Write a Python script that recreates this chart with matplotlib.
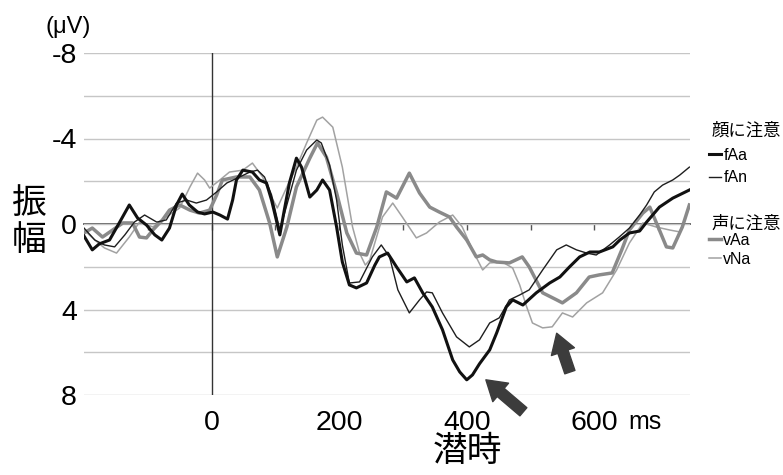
import matplotlib.pyplot as plt
from matplotlib.lines import Line2D

plt.rcParams['font.family'] = ['Liberation Sans Narrow', 'Liberation Sans', 'Noto Sans CJK JP']
JP = ['Noto Sans CJK JP', 'DejaVu Sans']

# === Data (ms, µV) ===
faa_t = [-200, -187, -176, -160, -144, -129, -116, -102, -89, -78,
         -66, -55, -46, -35, -22, -11, 2, 13, 25, 33,
         39, 49, 64, 75, 86, 94, 107, 114, 122, 133,
         141, 154, 165, 174, 185, 196, 205, 216, 227, 243,
         256, 263, 276, 290, 306, 318, 331, 346, 362, 378,
         389, 400, 409, 420, 436, 447, 462, 472, 488, 509,
         530, 546, 561, 577, 593, 608, 629, 640, 655, 671,
         682, 702, 723, 749]
faa_v = [0.56, 1.21, 0.93, 0.75, -0.09, -0.89, -0.28, 0.05, 0.51, 0.75,
         0.19, -0.89, -1.40, -0.89, -0.56, -0.47, -0.56, -0.42, -0.23, -1.12,
         -2.06, -2.52, -2.43, -2.06, -1.92, -1.12, 0.51, -0.65, -1.92, -3.08,
         -2.66, -1.26, -1.59, -2.06, -1.59, 0.14, 1.78, 2.85, 2.99, 2.76,
         1.92, 1.54, 1.36, 2.01, 2.71, 2.52, 3.22, 3.88, 4.95, 6.36,
         6.92, 7.29, 7.06, 6.54, 5.89, 5.09, 3.88, 3.55, 3.79, 3.22,
         2.76, 2.48, 2.01, 1.54, 1.31, 1.31, 1.07, 0.75, 0.42, 0.33,
         -0.09, -0.79, -1.21, -1.59]

fan_t = [-200, -183, -168, -152, -136, -121, -105, -86, -71, -55,
         -39, -24, -8, 8, 24, 44, 60, 72, 83, 94,
         107, 118, 133, 149, 165, 172, 185, 196, 205, 216,
         232, 252, 266, 279, 292, 310, 326, 337, 346, 362,
         384, 404, 420, 436, 451, 467, 483, 498, 519, 541,
         556, 572, 588, 603, 624, 639, 655, 671, 682, 694,
         707, 723, 734, 749]
fan_v = [0.19, 0.75, 0.98, 1.07, 0.51, -0.09, -0.42, -0.09, -0.19, -0.98,
         -1.12, -0.98, -1.12, -1.50, -1.92, -2.20, -2.43, -2.52, -2.20, -1.36,
         0.28, -0.89, -2.52, -3.46, -3.93, -3.79, -2.76, -1.12, 0.98, 2.76,
         2.71, 1.54, 0.98, 1.54, 3.08, 4.16, 3.55, 3.18, 3.22, 4.16,
         5.28, 5.75, 5.42, 4.63, 4.39, 3.55, 3.32, 3.08, 2.15, 1.21,
         0.98, 1.21, 1.36, 1.45, 0.98, 0.61, 0.19, -0.42, -0.89, -1.50,
         -1.82, -2.06, -2.29, -2.66]

vaa_t = [-200, -187, -171, -155, -139, -124, -113, -102, -92, -77,
         -66, -50, -34, -19, -3, 8, 17, 39, 60, 75,
         91, 103, 118, 133, 154, 166, 180, 196, 212, 227,
         243, 259, 274, 290, 310, 326, 342, 357, 373, 384,
         400, 415, 425, 436, 447, 467, 487, 498, 519, 541,
         550, 572, 592, 608, 628, 643, 655, 676, 687, 702,
         713, 723, 738, 749]
vaa_v = [0.42, 0.19, 0.61, 0.28, -0.05, -0.05, 0.61, 0.65, 0.28, -0.19,
         -0.65, -0.89, -0.65, -0.51, -0.65, -1.36, -2.06, -2.20, -2.20, -1.59,
         -0.05, 1.54, 0.14, -1.73, -3.08, -3.79, -3.13, -1.45, 0.42, 1.36,
         1.45, 0.14, -1.50, -1.21, -2.38, -1.45, -0.79, -0.56, -0.33, 0.14,
         0.75, 1.54, 1.45, 1.68, 1.78, 1.82, 1.54, 2.01, 3.22, 3.55,
         3.69, 3.22, 2.48, 2.38, 2.29, 1.21, 0.28, -0.51, -0.79, 0.28,
         1.07, 1.12, 0.14, -0.89]

vna_t = [-200, -183, -168, -149, -129, -113, -92, -71, -50, -34,
         -22, -11, -3, 13, 28, 49, 64, 80, 94, 103,
         118, 133, 149, 165, 174, 190, 205, 221, 232, 241,
         248, 268, 284, 299, 321, 337, 357, 378, 393, 409,
         425, 436, 456, 472, 483, 494, 503, 519, 534, 550,
         566, 588, 613, 635, 655, 676, 697, 718, 734, 749]
vna_v = [0.28, 0.75, 1.12, 1.36, 0.61, -0.09, 0.14, -0.33, -0.75, -1.73,
         -2.38, -2.06, -1.68, -2.06, -2.43, -2.52, -2.85, -2.20, -1.26, -0.75,
         -1.73, -2.66, -3.79, -4.86, -5.00, -4.53, -2.66, 0.14, 1.36, 1.92,
         1.68, -0.33, -0.98, -0.33, 0.65, 0.42, -0.09, -0.42, 0.14, 1.21,
         2.15, 1.82, 1.78, 2.06, 2.85, 3.88, 4.63, 4.86, 4.81, 4.16,
         4.35, 3.69, 3.22, 2.15, 0.89, -0.05, 0.14, 0.28, 0.37, -0.79]

y_ticks = [-8, -4, 0, 4, 8]
y_ticklabels = ['-8', '-4', '0', '4', '8']
x_ticks = [0, 200, 400, 600]
x_ticklabels = ['0', '200', '400', '600']

# === Figure ===
fig = plt.figure(figsize=(7.83, 4.75), dpi=100)
ax = fig.add_axes([84 / 783, 1 - 395 / 475, 606 / 783, 342 / 475])
ax.set_xlim(-200, 750)
ax.set_ylim(8, -8)
for s in ax.spines.values():
    s.set_visible(False)

ax.set_yticks(y_ticks, y_ticklabels)
ax.set_yticks(range(-8, 9, 2), minor=True)
ax.grid(axis='y', which='both', color='#c6c6c6', lw=1)
ax.set_xticks(x_ticks, x_ticklabels)
ax.tick_params(which='both', length=0)
ax.tick_params(axis='y', pad=5, labelsize=20.5)
ax.tick_params(axis='x', pad=11, labelsize=20.5)
ax.axvline(0, color='#333333', lw=1)

# zero line with small ms ticks
sec = ax.secondary_xaxis(0.5)
sec.set_xticks(range(-100, 800, 100))
sec.tick_params(direction='in', length=4, width=1, color='#555555', labeltop=False, labelbottom=False)
sec.spines['top'].set_color('#555555')
sec.spines['top'].set_linewidth(1.3)

ax.plot(vna_t, vna_v, color='#a2a2a2', lw=1.1, solid_joinstyle='round', label='vNa')
ax.plot(vaa_t, vaa_v, color='#8a8a8a', lw=2.5, solid_joinstyle='round', label='vAa')
ax.plot(fan_t, fan_v, color='#1e1e1e', lw=1.0, solid_joinstyle='round', label='fAn')
ax.plot(faa_t, faa_v, color='#111111', lw=2.2, solid_joinstyle='round', label='fAa')

# arrows
arrow = dict(arrowstyle='simple,head_length=1,head_width=1.25,tail_width=0.55',
             color='#3c3c3c', shrinkA=0, shrinkB=0, mutation_scale=14)
i = faa_v.index(max(faa_v))
ax.annotate('', xy=(faa_t[i] + 30, faa_v[i]), xytext=(27, -23),
            textcoords='offset points', arrowprops=arrow)
j = vna_v.index(max(vna_v[40:]))
ax.annotate('', xy=(vna_t[j] + 22, vna_v[j] + 0.25), xytext=(9.5, -28),
            textcoords='offset points', arrowprops=arrow)

# texts
fig.text(628 / 783, 1 - 422 / 475, 'ms', fontsize=18, va='center', ha='left')
fig.text(68 / 783, 1 - 27 / 475, '(μV)', fontsize=17, ha='center', va='center')
fig.text(29 / 783, 1 - 222 / 475, '振\n幅', fontsize=25, ha='center', va='center',
         linespacing=1.05, family=JP)
fig.text(467 / 783, 1 - 452 / 475, '潜時', fontsize=25, ha='center', va='center', family=JP)

# legend
fig.text(712 / 783, 1 - 131 / 475, '顔に注意', fontsize=12.5, ha='left', va='center', family=JP)
fig.text(712 / 783, 1 - 224 / 475, '声に注意', fontsize=12.5, ha='left', va='center', family=JP)
leg_kw = dict(loc='upper left', frameon=False, handlelength=0.75,
              handletextpad=0.15, borderpad=0, borderaxespad=0,
              prop={'family': 'Liberation Sans', 'size': 11.5})
h1 = [Line2D([], [], color='#111111', lw=2.2), Line2D([], [], color='#1e1e1e', lw=1.0)]
h2 = [Line2D([], [], color='#8a8a8a', lw=2.5), Line2D([], [], color='#a2a2a2', lw=1.1)]
fig.legend(h1, ['fAa', 'fAn'], bbox_to_anchor=(709 / 783, 1 - 148 / 475),
           labelspacing=0.45, **leg_kw)
fig.legend(h2, ['vAa', 'vNa'], bbox_to_anchor=(709 / 783, 1 - 233 / 475),
           labelspacing=0.25, **leg_kw)

fig.savefig('out.png', dpi=100)
